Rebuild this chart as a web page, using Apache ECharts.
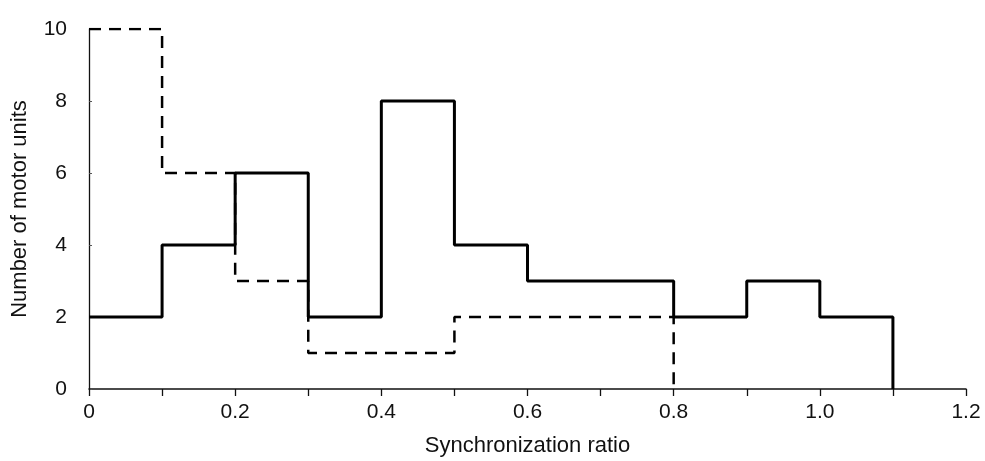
<!DOCTYPE html>
<html>
<head>
    <meta charset="UTF-8">
    <title>Synchronization ratio</title>
    <script src="https://cdn.jsdelivr.net/npm/echarts@6/dist/echarts.min.js"></script>
</head>
<body style="margin:0">
    <div id="chart" style="width:985px; height:461px"></div>
    <script>
        // bin left edges, last entry closes the histogram back to 0
        var binEdges = [0, 0.1, 0.2, 0.3, 0.4, 0.5, 0.6, 0.7, 0.8, 0.9, 1.0, 1.1];
        var solidCounts = [2, 4, 6, 2, 8, 4, 3, 3, 2, 3, 2, 0];
        var dashedEdges = [0, 0.1, 0.2, 0.3, 0.4, 0.5, 0.6, 0.7, 0.8];
        var dashedCounts = [10, 6, 3, 1, 1, 2, 2, 2, 0];

        function pairs(xs, ys) {
            var out = [];
            for (var i = 0; i < xs.length; i++) out.push([xs[i], ys[i]]);
            return out;
        }

        var font = '"Liberation Sans", sans-serif';
        var chart = echarts.init(document.getElementById('chart'), null, {renderer: 'canvas'});
        chart.setOption({
            backgroundColor: '#fff',
            animation: false,
            grid: {left: 89, right: 19, top: 29, bottom: 72, outerBoundsMode: 'none'},
            xAxis: {
                type: 'value',
                min: 0, max: 1.2, interval: 0.1,
                name: 'Synchronization ratio',
                nameLocation: 'middle',
                nameGap: 46,
                nameTextStyle: {fontFamily: font, fontSize: 22, color: '#111'},
                axisLine: {lineStyle: {color: '#111', width: 1.5}},
                axisTick: {length: 7, lineStyle: {color: '#111', width: 1.3}},
                splitLine: {show: false},
                axisLabel: {
                    margin: 13,
                    fontFamily: font, fontSize: 21, color: '#111',
                    formatter: function (v) {
                        var k = Math.round(v * 10);
                        if (k % 2) return '';
                        return k === 0 ? '0' : (k / 10).toFixed(1);
                    }
                }
            },
            yAxis: {
                type: 'value',
                min: 0, max: 10, interval: 2,
                name: 'Number of motor units',
                nameLocation: 'middle',
                nameGap: 58,
                nameTextStyle: {fontFamily: font, fontSize: 22, color: '#111'},
                axisLine: {show: true, lineStyle: {color: '#111', width: 1.3}},
                axisTick: {show: true, inside: true, length: 3, lineStyle: {color: '#555', width: 1}},
                splitLine: {show: false},
                axisLabel: {margin: 22, fontFamily: font, fontSize: 21, color: '#111'}
            },
            series: [
                {
                    type: 'line',
                    step: 'end',
                    symbol: 'none',
                    data: pairs(binEdges, solidCounts),
                    lineStyle: {color: '#000', width: 3}
                },
                {
                    type: 'line',
                    step: 'end',
                    symbol: 'none',
                    data: pairs(dashedEdges, dashedCounts),
                    lineStyle: {color: '#000', width: 2.5, type: [12, 8]}
                }
            ]
        });
    </script>
</body>
</html>
